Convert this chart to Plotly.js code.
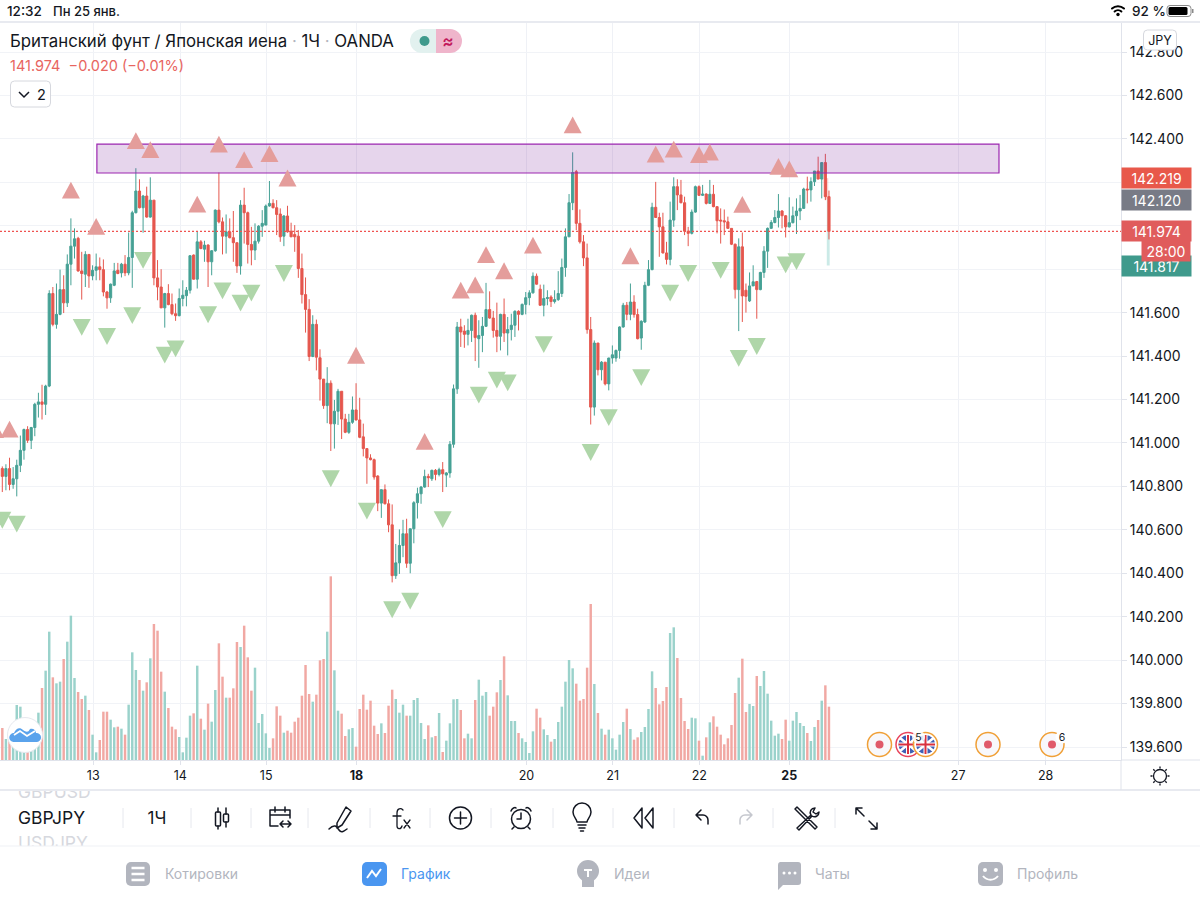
<!DOCTYPE html>
<html><head><meta charset="utf-8">
<script src="https://cdn.plot.ly/plotly-3.0.1.min.js"></script>
<style>
html,body{margin:0;padding:0;background:#fff;width:1200px;height:900px;overflow:hidden}
#chart{position:absolute;left:0;top:0;width:1200px;height:900px}
#chrome{position:absolute;left:0;top:0;pointer-events:none;font-family:Inter,"Noto Sans",sans-serif}
</style></head><body>
<div id="chart"></div>
<svg id="chrome" width="1200" height="900" viewBox="0 0 1200 900" xmlns="http://www.w3.org/2000/svg">
  <defs><clipPath id="tb"><rect x="0" y="791" width="1200" height="55"/></clipPath></defs>
  <!-- status bar -->
  <rect x="0" y="0" width="1200" height="22" fill="#fff"/>
  <line x1="0" y1="22" x2="1200" y2="22" stroke="#e0e3eb" stroke-width="1.5"/>
  <text x="7" y="16" font-size="13.5" font-weight="500" fill="#131722">12:32</text>
  <text x="53" y="16" font-size="13" font-weight="500" fill="#131722">Пн 25 янв.</text>
  <g fill="none" stroke="#000" stroke-width="2" stroke-linecap="round">
    <path d="M1112 8.5a9 9 0 0 1 12 0"/><path d="M1114.6 11.5a5 5 0 0 1 6.8 0"/>
  </g>
  <circle cx="1118" cy="14.5" r="1.7" fill="#000"/>
  <text x="1132" y="16" font-size="13.5" font-weight="500" fill="#131722">92 %</text>
  <rect x="1167" y="5.5" width="24" height="11" rx="3" fill="none" stroke="#8a8a8a"/>
  <rect x="1168.5" y="7" width="19" height="8" rx="1.5" fill="#000"/>
  <rect x="1192" y="9" width="1.5" height="4" fill="#8a8a8a"/>
  <!-- legend controls -->
  <path d="M436 29h-14a12 12 0 0 0 0 24h14z" fill="#e2f1ef"/>
  <path d="M436 29h14a12 12 0 0 1 0 24h-14z" fill="#efb5cb"/>
  <circle cx="424.500" cy="41" r="5" fill="#3f9a8c"/>
  <text x="448" y="46.500" font-size="17" font-weight="600" text-anchor="middle" fill="#c2185b">≈</text>
  <rect x="10.500" y="81" width="40" height="26" rx="4" fill="#fff" stroke="#d6d8de"/>
  <path d="M19 92l5 5 5-5" fill="none" stroke="#131722" stroke-width="1.5"/>
  <text x="37" y="99.500" font-size="14.500" fill="#131722">2</text>
  <!-- currency chip -->
  <rect x="1143.500" y="30" width="33" height="20" rx="4" fill="#fff" stroke="#d6d8de"/>
  <text x="1160" y="45" font-size="12.500" text-anchor="middle" fill="#131722">JPY</text>
  <!-- logo -->
  <circle cx="25" cy="735" r="17.500" fill="#fff" stroke="#e6e8ee"/>
  <path d="M13.500 742a4.500 4.500 0 0 1 .5-9c2-5 6-6 9-3 3 2 5 3 7-1 3-1 6 1 6 4a4.500 4.500 0 0 1 1 9z" fill="#5aa3ec"/>
  <path d="M14 735l6-4 7 5 8-5" fill="none" stroke="#fff" stroke-width="1.8"/>
  <!-- economic events -->
  <g>
    <circle cx="879.500" cy="744.500" r="12" fill="#f8f8fb" stroke="#f0a037" stroke-width="1.5"/>
    <circle cx="879.500" cy="744.500" r="4" fill="#e05a6a"/>
    <g>
      <circle cx="908" cy="744.500" r="12" fill="#fff" stroke="#e8445c" stroke-width="1.5"/>
      <circle cx="908" cy="744.500" r="9.500" fill="#3f5fb5"/>
      <path d="M900 738l16 13M916 738l-16 13" stroke="#fff" stroke-width="2.500"/>
      <path d="M908 735v19M898.500 744.500h19" stroke="#fff" stroke-width="4"/>
      <path d="M908 735v19M898.500 744.500h19" stroke="#d9303f" stroke-width="2"/>
    </g>
    <g>
      <circle cx="925.500" cy="744.500" r="12" fill="#fff" stroke="#f0a037" stroke-width="1.5"/>
      <circle cx="925.500" cy="744.500" r="9.500" fill="#3f5fb5"/>
      <path d="M917.500 738l16 13M933.500 738l-16 13" stroke="#fff" stroke-width="2.500"/>
      <path d="M925.500 735v19M916 744.500h19" stroke="#fff" stroke-width="4"/>
      <path d="M925.500 735v19M916 744.500h19" stroke="#d9303f" stroke-width="2"/>
    </g>
    <circle cx="918.500" cy="737" r="6.500" fill="#fff" opacity=".85"/>
    <text x="918.500" y="741" font-size="10.500" text-anchor="middle" fill="#131722">5</text>
    <circle cx="988" cy="744.500" r="12" fill="#f8f8fb" stroke="#f0a037" stroke-width="1.5"/>
    <circle cx="988" cy="744.500" r="4" fill="#e05a6a"/>
    <circle cx="1052" cy="744.500" r="12" fill="#f8f8fb" stroke="#f0a037" stroke-width="1.5"/>
    <circle cx="1052" cy="744.500" r="4" fill="#e05a6a"/>
    <circle cx="1062" cy="737" r="6.500" fill="#fff"/>
    <text x="1062" y="741" font-size="10.500" text-anchor="middle" fill="#131722">6</text>
  </g>
  <!-- axis strip -->
  <line x1="1121" y1="760" x2="1200" y2="760" stroke="#e0e3eb"/>
  <line x1="0" y1="790" x2="1200" y2="790" stroke="#e0e3eb" stroke-width="1.5"/>
  <line x1="1121" y1="760" x2="1121" y2="790" stroke="#e0e3eb"/>
  <circle cx="1160" cy="776" r="6.500" fill="none" stroke="#131722" stroke-width="1.300"/>
  <path d="M1160 766.500v2M1160 783.500v2M1150.500 776h2M1167.500 776h2M1153.300 769.300l1.400 1.400M1165.300 781.300l1.400 1.400M1153.300 782.700l1.400-1.400M1165.300 770.700l1.400-1.400" stroke="#131722" stroke-width="1.300"/>
  <!-- toolbar -->
  <g clip-path="url(#tb)">
    <text x="18" y="798" font-size="17.500" fill="#d6d8de">GBPUSD</text>
    <text x="18" y="849" font-size="17.500" fill="#d6d8de">USDJPY</text>
  </g>
  <text x="18" y="824" font-size="17.500" fill="#131722">GBPJPY</text>
  <line x1="0" y1="846" x2="1200" y2="846" stroke="#eff1f5"/>
  <g stroke="#e6e8ee"><path d="M123 808v20M191 808v20M251 808v20M308 808v20M370 808v20M430 808v20M491 808v20M553 808v20M613 808v20M674 808v20M773 808v20M835 808v20"/></g>
  <text x="157" y="824" font-size="17" text-anchor="middle" fill="#131722">1Ч</text>
  <g fill="none" stroke="#131722" stroke-width="1.500" stroke-linecap="round" stroke-linejoin="round">
    <path d="M218 808v4M218 826v3M226 808v6M226 822v5"/><rect x="215.500" y="812" width="5" height="14" rx="1"/><rect x="223.500" y="814" width="5" height="8" rx="1"/>
    <path d="M278 826h-8v-16h20v8M270 815h20M275 807v5M285 807v5M280 824h11M283 821l-3 3 3 3M288 821l3 3-3 3"/>
    <path d="M346 807l5 4-9 14-5 3 0-5zM329 829c6-6 8-2 10 1s4 2 8-1"/>
    <path d="M402 826c-1 4-5 3-5 0v-13c0-5 4-5 6-3M393 816h8M404 820l6 8M410 820l-6 8" stroke-width="1.300"/>
    <circle cx="460.500" cy="818" r="11"/><path d="M460.500 812v12M454.500 818h12"/>
    <circle cx="521" cy="819" r="9.500"/><path d="M521 813v6h-4M511 811c1-3 4-4 5-3M531 811c-1-3-4-4-5-3M514 827l-2 2M528 827l2 2"/>
    <path d="M577 822c0-3-4-5-4-10a9 9 0 0 1 18 0c0 5-4 7-4 10zM578 825h8M579 828h6M580.500 831h3"/>
    <path d="M642 808l-8 10 8 10zM653 808l-8 10 8 10z"/>
    <path d="M700 815l-5 5 5 5M695 820h7a5 5 0 0 1 5 5v4" transform="translate(1,-5)"/>
    <path d="M748 815l5 5-5 5M753 820h-7a5 5 0 0 0-5 5v4" transform="translate(-1,-5)" stroke="#c5c7ce"/>
    <path d="M795 809l20 20 2-2-20-20zM815 808c-4 0-6 4-4 7l-14 13 2 2 13-14c3 2 7 0 7-4l-3 2-3-2z"/>
    <path d="M856 808h6M856 808v6M856 808l8 8M877 829h-6M877 829v-6M877 829l-8-8"/>
  </g>
  <!-- tab bar -->
  <g font-size="14">
    <rect x="126" y="862" width="24" height="24" rx="5" fill="#b2b5be"/>
    <path d="M131.500 868h13M131.500 874h13M131.500 880h13" stroke="#fff" stroke-width="2.500"/>
    <text x="165" y="879" fill="#b2b5be">Котировки</text>
    <rect x="362" y="862" width="25" height="24" rx="5" fill="#4a96f0"/>
    <path d="M367 878l5-7 4 5 5-7" fill="none" stroke="#fff" stroke-width="2"/>
    <text x="401" y="879" fill="#4a96f0">График</text>
    <circle cx="588" cy="871" r="11" fill="#b2b5be"/><rect x="582" y="878" width="12" height="9" fill="#b2b5be"/>
    <path d="M584 870h8M588 870v7" stroke="#fff" stroke-width="2"/>
    <text x="614" y="879" fill="#b2b5be">Идеи</text>
    <path d="M780 862h18a3 3 0 0 1 3 3v17a3 3 0 0 1-3 3h-15l-5 5v-25a3 3 0 0 1 2-3z" fill="#b2b5be"/>
    <circle cx="784" cy="873" r="1.500" fill="#fff"/><circle cx="789.500" cy="873" r="1.500" fill="#fff"/><circle cx="795" cy="873" r="1.500" fill="#fff"/>
    <text x="815" y="879" fill="#b2b5be">Чаты</text>
    <rect x="978" y="862" width="25" height="24" rx="5" fill="#b2b5be"/>
    <circle cx="985" cy="870" r="2" fill="#fff"/><circle cx="996" cy="870" r="2" fill="#fff"/>
    <path d="M983 876c4 5 11 5 15 0" fill="none" stroke="#fff" stroke-width="2"/>
    <text x="1017" y="879" fill="#b2b5be">Профиль</text>
  </g>
</svg>
<script>
const opens = [
140.882,140.846,140.882,140.809,140.835,140.897,140.966,141.062,141.012,141.071,
141.178,141.189,141.178,141.262,141.688,141.546,141.592,141.706,141.645,141.823,
141.906,141.942,141.792,141.777,141.868,141.769,141.795,141.811,141.798,141.695,
141.668,141.726,141.795,141.783,141.823,141.783,141.854,142.06,142.16,142.083,
142.137,142.04,142.118,141.76,141.718,141.622,141.688,141.637,141.595,141.586,
141.665,141.678,141.703,141.865,141.754,141.926,141.892,141.911,141.834,141.885,
142.072,142.018,141.952,141.972,141.945,141.922,141.815,142.095,142.06,141.914,
141.888,141.929,141.998,142.003,142.091,142.103,142.083,142.054,141.952,142.045,
141.975,141.96,141.952,141.803,141.683,141.615,141.398,141.546,141.392,141.294,
141.172,141.275,141.088,141.146,141.238,141.11,141.049,141.095,141.152,141.106,
141.028,140.974,140.931,140.923,140.848,140.723,140.785,140.72,140.623,140.389,
140.448,140.528,140.582,140.446,140.605,140.725,140.766,140.797,140.846,140.835,
140.874,140.855,140.877,140.852,140.862,140.994,141.249,141.534,141.515,141.5,
141.518,141.588,141.48,141.495,141.537,141.614,141.575,141.518,141.491,141.592,
141.506,141.522,141.542,141.606,141.592,141.638,141.669,141.691,141.768,141.708,
141.634,141.665,141.672,141.651,141.66,141.688,141.808,141.949,142.106,142.249,
142.011,141.926,141.852,141.522,141.165,141.46,141.337,141.372,141.272,141.391,
141.391,141.426,141.534,141.634,141.592,141.649,141.591,141.483,141.557,141.726,
141.798,142.085,142.038,141.995,141.875,141.845,142.026,142.18,142.142,142.106,
141.975,141.965,142.063,142.18,142.14,142.146,142.103,142.145,142.088,142.026,
142.023,142.018,141.988,141.915,141.706,141.903,141.703,141.654,141.723,141.743,
141.706,141.785,141.883,141.988,142.015,142.038,142.068,142.046,141.995,142.014,
142.046,142.068,142.08,142.169,142.165,142.203,142.252,142.215,142.291,142.134];
const closes = [
140.846,140.882,140.809,140.835,140.897,140.966,141.062,141.012,141.071,141.178,
141.189,141.178,141.262,141.688,141.546,141.592,141.706,141.645,141.823,141.906,
141.94,141.792,141.78,141.868,141.769,141.795,141.811,141.798,141.695,141.668,
141.731,141.792,141.78,141.823,141.783,141.854,142.06,142.16,142.083,142.137,
142.04,142.118,141.76,141.718,141.622,141.688,141.637,141.595,141.586,141.665,
141.68,141.703,141.862,141.754,141.926,141.895,141.911,141.834,141.885,142.072,
142.018,141.952,141.972,141.945,141.922,141.815,142.095,142.06,141.914,141.888,
141.929,141.998,142.011,142.091,142.103,142.083,142.052,141.949,142.045,141.972,
141.949,141.949,141.803,141.683,141.615,141.398,141.546,141.395,141.294,141.172,
141.275,141.088,141.146,141.238,141.11,141.049,141.095,141.152,141.106,141.026,
140.974,140.931,140.923,140.843,140.723,140.785,140.72,140.623,140.389,140.448,
140.528,140.582,140.446,140.605,140.725,140.766,140.797,140.846,140.84,140.874,
140.855,140.877,140.858,140.862,140.994,141.249,141.534,141.511,141.5,141.518,
141.588,141.485,141.495,141.537,141.614,141.575,141.518,141.491,141.592,141.506,
141.522,141.542,141.606,141.592,141.638,141.669,141.691,141.768,141.731,141.634,
141.665,141.669,141.651,141.66,141.688,141.808,141.949,142.106,142.245,142.011,
141.926,141.852,141.522,141.165,141.46,141.337,141.372,141.272,141.391,141.406,
141.426,141.534,141.634,141.592,141.649,141.591,141.48,141.56,141.726,141.798,
142.085,142.038,141.995,141.875,141.845,142.026,142.18,142.142,142.106,141.975,
141.965,142.063,142.18,142.14,142.146,142.103,142.145,142.088,142.023,142.022,
142.018,141.988,141.915,141.706,141.903,141.677,141.675,141.723,141.742,141.706,
141.785,141.883,141.988,142.015,142.038,142.068,142.046,141.995,142.014,142.046,
142.068,142.08,142.169,142.165,142.203,142.252,142.215,142.291,142.134,141.974];
const highs = [
140.892,140.902,140.932,140.889,140.923,141.034,141.066,141.077,141.074,141.185,
141.231,141.268,141.268,141.703,141.718,141.734,141.798,141.772,141.868,142.034,
141.988,141.949,141.88,141.883,141.868,141.818,141.872,141.854,141.845,141.7,
141.734,141.829,141.829,141.829,141.865,141.969,142.069,142.265,142.214,142.142,
142.18,142.223,142.118,141.842,141.8,141.691,141.731,141.688,141.642,141.711,
141.749,141.718,141.865,141.868,141.975,141.934,141.931,141.915,141.888,142.075,
142.245,142.038,142.052,142.034,142.068,141.922,142.118,142.175,142.065,141.995,
142.011,142.003,142.072,142.098,142.206,142.122,142.118,142.08,142.049,142.092,
142.014,142.003,141.98,141.872,141.762,141.662,141.588,141.568,141.431,141.294,
141.349,141.288,141.198,141.249,141.238,141.134,141.134,141.214,141.275,141.208,
141.089,140.974,140.948,140.928,140.851,140.785,140.809,140.74,140.717,140.535,
140.602,140.646,140.651,140.605,140.732,140.794,140.802,140.877,140.858,140.877,
140.88,140.886,140.912,140.866,141.009,141.269,141.557,141.572,141.542,141.572,
141.591,141.6,141.565,141.58,141.737,141.698,141.608,141.646,141.595,141.665,
141.58,141.595,141.611,141.611,141.642,141.695,141.703,141.785,141.78,141.729,
141.729,141.703,141.68,141.703,141.791,141.849,141.988,142.146,142.338,142.257,
142.075,141.957,141.918,141.58,141.472,141.46,141.377,141.372,141.392,141.449,
141.43,141.537,141.645,141.649,141.734,141.68,141.618,141.565,141.742,141.842,
142.106,142.202,142.06,142.06,141.926,142.111,142.223,142.214,142.211,142.134,
141.995,142.075,142.185,142.186,142.188,142.149,142.211,142.188,142.088,142.08,
142.075,142.042,141.988,141.918,141.942,141.969,141.734,141.785,141.818,141.746,
141.788,141.906,141.992,142.026,142.072,142.146,142.072,142.049,142.131,142.088,
142.126,142.142,142.175,142.226,142.223,142.252,142.318,142.291,142.331,142.162];
const lows = [
140.774,140.782,140.782,140.789,140.754,140.866,140.923,141.0,140.972,141.031,
141.117,141.108,141.129,141.257,141.537,141.526,141.588,141.598,141.626,141.726,
141.849,141.788,141.66,141.718,141.714,141.749,141.749,141.749,141.675,141.618,
141.645,141.722,141.777,141.762,141.768,141.772,141.714,142.057,142.08,141.968,
142.037,142.037,141.726,141.657,141.622,141.531,141.634,141.588,141.562,141.583,
141.629,141.629,141.688,141.752,141.711,141.892,141.834,141.718,141.772,141.88,
142.011,141.868,141.872,141.942,141.834,141.783,141.775,141.918,141.826,141.818,
141.842,141.918,141.949,142.003,142.088,142.08,141.957,141.926,141.906,141.968,
141.949,141.88,141.76,141.642,141.508,141.377,141.395,141.334,141.195,141.157,
141.091,140.963,140.974,141.083,141.018,141.045,141.042,141.088,141.103,141.022,
140.938,140.812,140.92,140.831,140.686,140.655,140.717,140.589,140.358,140.374,
140.397,140.474,140.425,140.4,140.538,140.652,140.72,140.794,140.797,140.825,
140.828,140.846,140.774,140.797,140.84,140.978,141.226,141.442,141.438,141.449,
141.465,141.377,141.346,141.418,141.534,141.572,141.485,141.418,141.426,141.465,
141.403,141.472,141.488,141.518,141.588,141.592,141.634,141.688,141.729,141.631,
141.583,141.634,141.626,141.642,141.654,141.672,141.765,141.949,142.072,141.98,
141.918,141.814,141.503,141.085,141.126,141.311,141.288,141.265,141.242,141.365,
141.374,141.388,141.531,141.565,141.565,141.577,141.477,141.429,141.552,141.722,
141.795,142.037,141.857,141.872,141.822,141.818,141.995,142.072,142.103,141.957,
141.906,141.96,142.06,142.137,142.137,142.098,142.1,142.085,141.965,141.918,
141.957,141.988,141.911,141.665,141.515,141.557,141.6,141.649,141.723,141.572,
141.703,141.76,141.806,141.988,142.011,141.992,141.988,141.946,141.992,142.011,
141.962,142.026,142.08,142.103,142.111,142.183,142.214,142.126,142.118,141.937];
const volumes = [
96,63,68,60,165,160,70,40,40,58,
142,216,268,385,248,230,235,303,355,433,
246,204,183,193,150,76,23,60,145,145,
121,98,100,94,76,166,323,270,240,208,
233,305,408,388,265,205,156,100,92,69,
23,67,133,140,283,124,91,169,115,210,
350,250,187,187,215,354,339,403,308,208,
277,111,138,80,36,65,161,133,82,88,
82,115,127,193,285,198,175,196,299,303,
385,551,269,148,139,72,92,96,40,153,
196,151,178,103,78,110,81,163,211,183,
142,166,133,133,180,186,111,63,104,68,
72,141,24,58,110,182,183,150,65,79,
65,180,241,193,204,133,160,203,240,311,
194,117,117,81,65,54,21,86,154,127,
92,75,55,63,114,160,235,300,275,229,
178,183,277,468,228,141,94,76,91,65,
31,76,114,154,93,61,68,84,99,153,
266,216,167,177,219,381,398,306,186,117,
93,127,125,58,13,68,113,131,100,76,
47,65,105,201,247,304,144,168,162,252,
222,267,199,118,73,79,63,121,58,118,
144,111,102,81,57,99,120,178,224,160];

const upIndex = [-2,2,19,26,37,41,54,60,67,74,79,98,117,127,131,134,139,147,158,174,181,186,193,196,205,215,218];
const upPrice = [141.06,141.062,142.162,141.995,142.39,142.349,142.098,142.374,142.303,142.33,142.218,141.402,141.005,141.702,141.726,141.865,141.791,141.909,142.463,141.86,142.328,142.351,142.326,142.337,142.097,142.272,142.26];
const downIndex = [0,4,22,29,36,39,45,48,57,61,66,69,78,91,101,108,113,122,132,137,140,150,163,168,177,185,190,199,204,209,217,220];
const downPrice = [140.646,140.628,141.534,141.492,141.588,141.842,141.406,141.435,141.592,141.702,141.646,141.692,141.782,140.837,140.688,140.234,140.274,140.649,141.222,141.291,141.278,141.455,140.958,141.118,141.303,141.692,141.782,141.796,141.391,141.446,141.822,141.837];

const priceTicks = [139.6,139.8,140,140.2,140.4,140.6,140.8,141,141.2,141.4,141.6,141.8,142,142.2,142.4,142.6,142.8];
const hiddenByTags = [141.8,142,142.2];
const dayTickAt = [25.2,49.3,73.1,98.1,145.2,169.1,193.1,218,264.8,289];
const dayTickText = ['13','14','15','<b>18</b>','20','21','22','<b>25</b>','27','28'];

const zonePrices = [142.243,142.376];
const zoneIndex = [26.2,276.1];
const lastPrice = 141.974;
const priceTags = [
  {y:142.219,t:'142.219',c:'#e8584a'},
  {y:142.120,t:'142.120',c:'#787b86'},
  {y:141.817,t:'141.817',c:'#3f9a8c'},
  {y:141.974,t:'141.974',c:'#e05c5c'}
];
const idx = opens.map((_,i)=>i);
const GREEN='#46a195', RED='#e5574e';

const triUp = 'M-9,-8 L9,-8 L0,8.8 Z';
const triDn = 'M-9,8 L9,8 L0,-8.8 Z';
const shapes = [{
  type:'rect',xref:'x',yref:'y',x0:zoneIndex[0],x1:zoneIndex[1],y0:zonePrices[0],y1:zonePrices[1],
  fillcolor:'rgba(124,34,155,0.19)',line:{color:'#9c27b0',width:1.2},layer:'above'
},{
  type:'line',xref:'paper',yref:'y',x0:0,x1:1,y0:lastPrice,y1:lastPrice,
  line:{color:'#ef5350',width:1.2,dash:'2px,2px'},layer:'above'
}];
upIndex.forEach((x,i)=>shapes.push({type:'path',xref:'x',yref:'y',xsizemode:'pixel',ysizemode:'pixel',xanchor:x,yanchor:upPrice[i],path:triUp,fillcolor:'#e49d9b',line:{width:0},layer:'above'}));
downIndex.forEach((x,i)=>shapes.push({type:'path',xref:'x',yref:'y',xsizemode:'pixel',ysizemode:'pixel',xanchor:x,yanchor:downPrice[i],path:triDn,fillcolor:'#afd6a9',line:{width:0},layer:'above'}));

const tagAnn = priceTags.map(p=>({xref:'paper',yref:'y',x:1,xanchor:'left',y:p.y,yanchor:'middle',text:p.t,showarrow:false,
  bgcolor:p.c,width:67,height:18,borderpad:1,align:'center',font:{family:'Inter',size:14,color:'#fff'}}));
tagAnn.push({xref:'paper',yref:'y',x:1+20/1121,xanchor:'left',y:141.8815,yanchor:'middle',text:'28:00',showarrow:false,
  bgcolor:'#e05c5c',width:46,height:18,borderpad:1,align:'center',font:{family:'Inter',size:14,color:'#fff'}});
tagAnn.push({xref:'paper',yref:'paper',x:0.0071,xanchor:'left',y:(760-65.5)/737,yanchor:'middle',text:'141.974  −0.020 (−0.01%)',showarrow:false,
  font:{family:'Inter',size:14.5,color:'#e8655f'}});

const data = [
 {type:'bar',x:[228.6],y:[0.099],base:[142.12],width:[0.8],marker:{color:'rgba(239,83,80,0.28)',line:{width:0}},yaxis:'y',xaxis:'x',showlegend:false,hoverinfo:'skip'},
 {type:'bar',x:[228.6],y:[0.303],base:[141.817],width:[0.8],marker:{color:'rgba(38,166,154,0.24)',line:{width:0}},yaxis:'y',xaxis:'x',showlegend:false,hoverinfo:'skip'},
 {type:'candlestick',x:idx,open:opens,high:highs,low:lows,close:closes,whiskerwidth:0,
  increasing:{line:{color:GREEN,width:1},fillcolor:GREEN},decreasing:{line:{color:RED,width:1},fillcolor:RED},
  showlegend:false,hoverinfo:'skip'},
 {type:'bar',x:idx,y:volumes,width:0.68,yaxis:'y2',xaxis:'x',showlegend:false,hoverinfo:'skip',
  marker:{color:idx.map(i=>closes[i]>=opens[i]?'#9ad2cb':'#f1a8a3'),line:{width:0}}}
];
const dot='<span style="color:#b2b5be">·</span>';
const layout = {
  width:1200,height:900,paper_bgcolor:'#fff',plot_bgcolor:'#fff',
  margin:{l:0,r:79,t:23,b:140,pad:0},showlegend:false,boxgap:0.15,
  title:{text:'Британский фунт / Японская иена '+dot+' 1Ч '+dot+' OANDA',xref:'paper',yref:'container',x:0.0089,xanchor:'left',y:1-41/900,yanchor:'middle',
    font:{family:'Inter',size:16.8,color:'#131722'}},
  xaxis:{type:'linear',range:[-0.64,309.9],tickmode:'array',tickvals:dayTickAt,ticktext:dayTickText,
    showgrid:true,gridcolor:'#eff1f6',gridwidth:1,ticks:'outside',ticklen:4,tickcolor:'#e0e3eb',
    showline:true,linecolor:'#e0e3eb',linewidth:1,zeroline:false,rangeslider:{visible:false},
    tickfont:{family:'Inter',size:12.5,color:'#131722'},fixedrange:true},
  yaxis:{side:'right',range:[139.5403,142.9335],tickmode:'array',tickvals:priceTicks,
    ticktext:priceTicks.map(v=>hiddenByTags.includes(v)?'':v.toFixed(3)),
    showgrid:true,gridcolor:'#f1f3f7',gridwidth:1,ticks:'outside',ticklen:5,tickcolor:'#e0e3eb',
    showline:true,linecolor:'#e0e3eb',linewidth:1,zeroline:false,automargin:false,
    tickfont:{family:'Inter',size:14,color:'#131722'},fixedrange:true},
  yaxis2:{overlaying:'y',side:'left',range:[0,2211],visible:false,showgrid:false,zeroline:false,fixedrange:true},
  shapes:shapes,annotations:tagAnn
};
Plotly.newPlot('chart',data,layout,{staticPlot:true,displayModeBar:false});
</script>
</body></html>
